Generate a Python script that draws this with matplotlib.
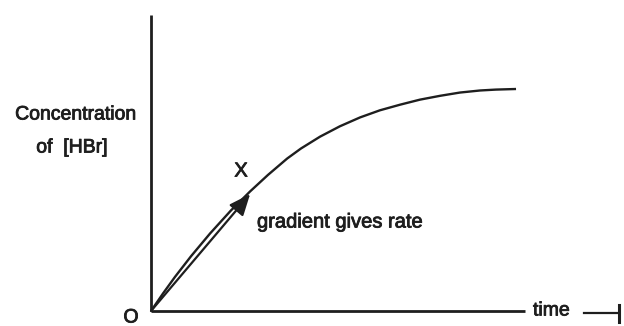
import matplotlib
matplotlib.use("Agg")
import matplotlib.pyplot as plt
import matplotlib.patheffects as pe

# ---- data ----
time_vals = [0, 0.32, 0.64, 1.07, 1.58, 2.14, 2.65, 3.13, 3.64, 4.01, 4.52,
             5.05, 5.59, 6.12, 6.66, 7.19, 7.73, 8.26, 8.80, 9.22, 9.76]
conc_vals = [0, 0.59, 1.15, 1.85, 2.62, 3.40, 4.04, 4.60, 5.15, 5.49, 5.89,
             6.24, 6.54, 6.78, 6.97, 7.14, 7.27, 7.38, 7.45, 7.48, 7.50]
arrow_start = (0.0, 0.0)
arrow_end = (2.65, 3.95)
y_label_lines = ["Concentration", "of  [HBr]"]
x_label = "time"
origin_label = "O"
point_label = "X"
note_label = "gradient gives rate"

W, H = 624, 326
plt.rcParams['font.family'] = ['Liberation Sans', 'DejaVu Sans']
fig = plt.figure(figsize=(W / 100, H / 100), dpi=100)


def fx(x):
    return x / W


def fy(y):
    return 1 - y / H


ink = '#1e1e1e'
thick = [pe.withStroke(linewidth=0.6, foreground=ink)]

ax = fig.add_axes([fx(151), fy(311), (525 - 151) / W, (311 - 15) / H])
ax.set_xlim(0, 10)
ax.set_ylim(0, 10)
ax.patch.set_alpha(0)
for s in ['top', 'right']:
    ax.spines[s].set_visible(False)
for s in ['left', 'bottom']:
    ax.spines[s].set_linewidth(2.0)
    ax.spines[s].set_color(ink)
    ax.spines[s].set_capstyle('butt')
ax.set_xticks([])
ax.set_yticks([])

ax.plot(time_vals, conc_vals, color=ink, lw=1.7, solid_capstyle='butt', clip_on=False)

ax.annotate('', xy=arrow_end, xytext=arrow_start,
            arrowprops=dict(arrowstyle='-|>,head_length=13,head_width=5.5',
                            mutation_scale=1, color=ink, lw=1.6,
                            shrinkA=0, shrinkB=0))

kw = dict(color=ink, path_effects=thick)
fig.text(fx(76), fy(115), y_label_lines[0], ha='center', va='center', fontsize=14, **kw)
fig.text(fx(72), fy(148), y_label_lines[1], ha='center', va='center', fontsize=14, **kw)
fig.text(fx(131), fy(318), origin_label, ha='center', va='center', fontsize=14, **kw)
fig.text(fx(241), fy(171), point_label, ha='center', va='center', fontsize=14.5, **kw)
fig.text(fx(257), fy(222), note_label, ha='left', va='center', fontsize=14.5, **kw)
fig.text(fx(533), fy(311), x_label, ha='left', va='center', fontsize=14, **kw)

# small arrow after "time"
fig.add_artist(plt.Line2D([fx(584), fx(619)], [fy(313), fy(313)], color=ink, lw=1.6))
fig.add_artist(plt.Line2D([fx(619), fx(619)], [fy(305), fy(322)], color=ink, lw=2.2))

fig.savefig('out.png', dpi=100)
